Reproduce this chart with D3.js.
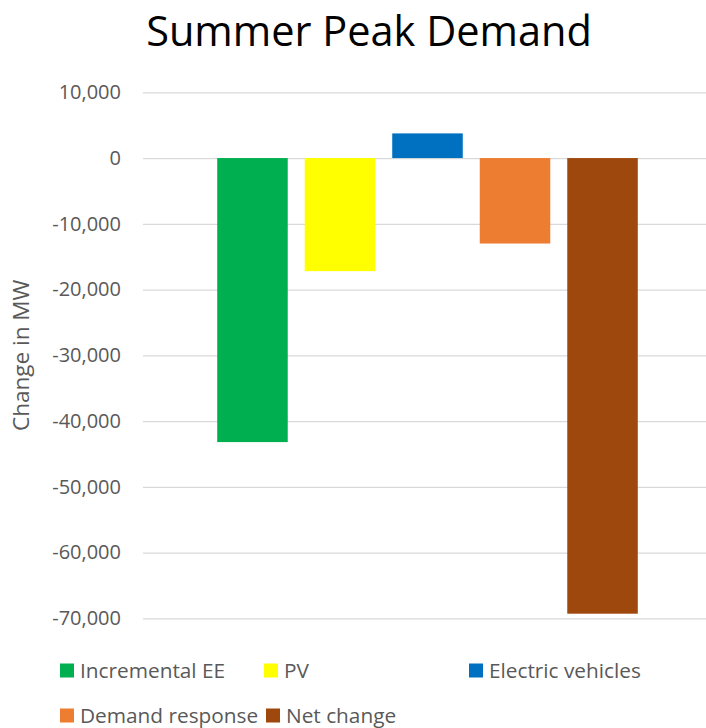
<!DOCTYPE html>
<html>
<head>
<meta charset="utf-8">
<script src="https://cdn.jsdelivr.net/npm/d3@7/dist/d3.min.js"></script>
<style>
  body { margin: 0; background: #fff; }
  svg { display: block; }
</style>
</head>
<body>
<svg id="chart" width="706" height="728"></svg>
<script>
// data (MW)
var series = ["Incremental EE", "PV", "Electric vehicles", "Demand response", "Net change"];
var values = [-43200, -17200, 3750, -13000, -69300];
var colors = ["#00B050", "#FFFF00", "#0070C0", "#ED7D31", "#9E480E"];
var yTicks = [10000, 0, -10000, -20000, -30000, -40000, -50000, -60000, -70000];

var svg = d3.select("#chart"),
    width = 706,
    height = 728;

var font = "'Open Sans', sans-serif";
var textGrey = "#595959";

// plot area (goes a little past the right edge, like the cropped original)
var plotLeft = 143, plotRight = 712, plotTop = 92.3, plotBottom = 618.3;

var y = d3.scaleLinear().domain([-70000, 10000]).range([plotBottom, plotTop]);
var x = d3.scaleBand().domain(series).range([plotLeft, plotRight])
    .paddingInner(0.194).paddingOuter(0.848);

// title
svg.append("text")
    .attr("x", 369).attr("y", 46)
    .attr("text-anchor", "middle")
    .attr("font-family", font)
    .attr("font-size", 41.5)
    .attr("fill", "#000")
    .text("Summer Peak Demand");

// excel style numbers, plain hyphen for minus
var fmt = d3.format(",");
function tickFmt(d) { return fmt(d).replace("\u2212", "-"); }

// gridlines + tick labels through d3 axis
var yAxis = d3.axisLeft(y).tickValues(yTicks)
    .tickSize(-(plotRight - plotLeft))
    .tickPadding(22)
    .tickFormat(tickFmt);

var ax = svg.append("g")
    .attr("transform", "translate(" + plotLeft + ",0)")
    .call(yAxis);
ax.select(".domain").remove();
ax.selectAll(".tick line").attr("stroke", "#D9D9D9").attr("stroke-width", 1.3);
ax.selectAll(".tick text")
    .attr("fill", textGrey)
    .attr("font-family", font)
    .attr("font-size", 20);

// y axis title
svg.append("text")
    .attr("transform", "translate(29," + ((plotTop + plotBottom) / 2) + ") rotate(-90)")
    .attr("text-anchor", "middle")
    .attr("font-family", font)
    .attr("font-size", 22.5)
    .attr("fill", textGrey)
    .text("Change in MW");

// bars
svg.append("g").selectAll("rect")
    .data(series)
    .enter().append("rect")
    .attr("x", function(d) { return x(d); })
    .attr("width", x.bandwidth())
    .attr("y", function(d, i) { return y(Math.max(0, values[i])); })
    .attr("height", function(d, i) { return Math.abs(y(values[i]) - y(0)); })
    .attr("fill", function(d, i) { return colors[i]; });

// legend, laid out like excel did it
var legendPos = [[60, 670.5], [264, 670.5], [469, 670.5], [60, 715.5], [266, 715.5]];

var leg = svg.append("g").selectAll("g")
    .data(series)
    .enter().append("g")
    .attr("transform", function(d, i) { return "translate(" + legendPos[i][0] + "," + legendPos[i][1] + ")"; });

leg.append("rect")
    .attr("x", 0).attr("y", -7)
    .attr("width", 14).attr("height", 14)
    .attr("fill", function(d, i) { return colors[i]; });

leg.append("text")
    .attr("x", 20).attr("y", 0)
    .attr("dy", "0.35em")
    .attr("font-family", font)
    .attr("font-size", 20.8)
    .attr("fill", textGrey)
    .text(function(d) { return d; });
</script>
</body>
</html>
